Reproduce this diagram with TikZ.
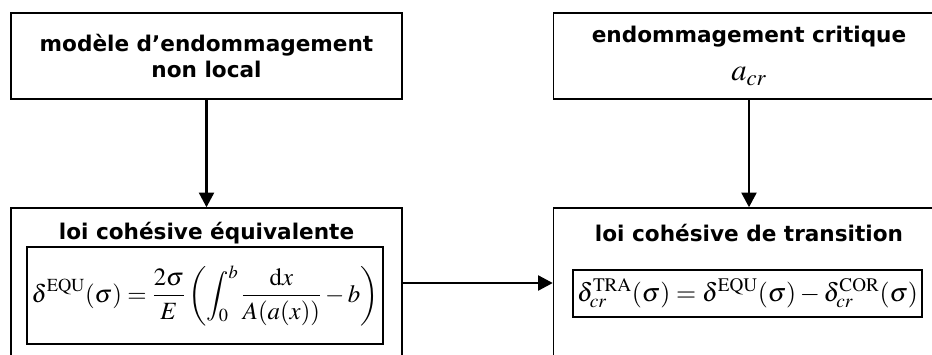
\documentclass[tikz,border=0pt]{standalone}
\usepackage{amsmath}
\usepackage{mathptmx}
\usepackage[no-math]{fontspec}
\newfontfamily\boxfont{DejaVu Sans}
\usetikzlibrary{arrows.meta,positioning}

\tikzset{
  bloc/.style={draw,line width=1pt,minimum width=293.25pt,minimum height=64.5pt,
    align=center,font=\boxfont\bfseries\fontsize{16.2}{19.5}\selectfont},
  grandbloc/.style={bloc,minimum height=112.5pt},
  titre/.style={font=\boxfont\bfseries\fontsize{16.2}{19.5}\selectfont,inner sep=0pt},
  formule/.style={draw,line width=1pt,inner sep=0pt}
}

\begin{document}
\begin{tikzpicture}[line cap=butt,line join=miter,>={Triangle[length=11pt,width=11pt]},x=0.75pt,y=-0.75pt]
        \clip[use as bounding box] (0,0) rectangle (932,354);
        % blocs du haut
        \node[bloc] (modele) at (206.5,56) {mod\`ele d’endommagement\\non local};
        \node[bloc] (critique) at (749,56) {endommagement critique\\[9pt]{\fontsize{23}{24}\selectfont$a_{cr}$}};
        % blocs du bas
        \node[grandbloc] (equ) at (206.5,283) {};
        \node[grandbloc] (tra) at (749,283) {};
        \node[titre] (tequ) at (206.5,233) {loi coh\'esive \'equivalente};
        \node[titre] (ttra) at (749,233) {loi coh\'esive de transition};
        \node[formule,font=\fontsize{18.6}{22}\selectfont,minimum width=267pt,minimum height=72.75pt] (fequ) at (205,295.5)
            {$\displaystyle\delta^{\mathrm{EQU}}(\sigma)=\frac{2\sigma}{E}\left(\int_0^b\frac{\mathrm{d}x}{A(a(x))}-b\right)$};
        \node[formule,font=\fontsize{19.4}{23}\selectfont,minimum width=261.75pt,minimum height=35.25pt] (ftra) at (747.5,293.5)
            {$\delta_{cr}^{\mathrm{TRA}}(\sigma)=\delta^{\mathrm{EQU}}(\sigma)-\delta_{cr}^{\mathrm{COR}}(\sigma)$};
        % fleches
        \draw[->,line width=2.2pt] (modele) -- (equ);
        \draw[->,line width=2.2pt] (critique) -- (tra);
        \draw[->,line width=2.2pt] (equ) -- (tra);
\end{tikzpicture}
\end{document}
